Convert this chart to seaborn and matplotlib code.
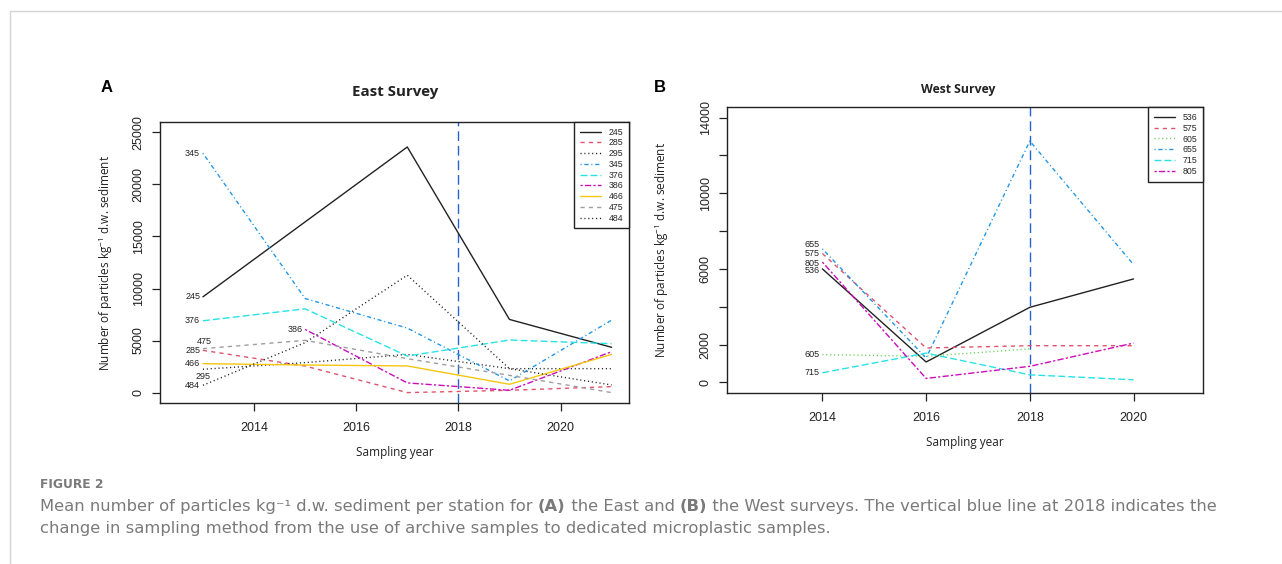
import numpy as np
import pandas as pd
import matplotlib
matplotlib.use("Agg")
import matplotlib.pyplot as plt
import seaborn as sns
from matplotlib.lines import Line2D

# ---------------- data ----------------
east_years = [2013, 2015, 2017, 2019, 2021]
east_245 = [9200, 16400, 23600, 7030, 4350]
east_285 = [4060, 2550, 0, 220, 575]
east_295 = [2240, 2880, 3670, 2300, 2300]
east_345 = [23000, 9040, 6200, 1120, 6960]
east_376 = [6900, 8050, 3510, 5050, 4700]
east_386 = [np.nan, 6070, 930, 220, 3930]
east_466 = [2780, 2650, 2560, 800, 3670]
east_475 = [4220, 5020, 3260, 1660, 0]
east_484 = [700, 4800, 11280, 2300, 730]
east_stations = ["245", "285", "295", "345", "376", "386", "466", "475", "484"]
east_values = [east_245, east_285, east_295, east_345, east_376, east_386,
               east_466, east_475, east_484]

west_years = [2014, 2016, 2018, 2020]
west_536 = [6000, 1080, 3970, 5470]
west_575 = [6810, 1820, 1940, 1940]
west_605 = [1470, 1380, 1770, np.nan]
west_655 = [7060, 1290, 12760, 6230]
west_715 = [510, 1550, 400, 140]
west_805 = [6360, 210, 850, 2080]
west_stations = ["536", "575", "605", "655", "715", "805"]
west_values = [west_536, west_575, west_605, west_655, west_715, west_805]

east_yticks = [0, 5000, 10000, 15000, 20000, 25000]
west_yticks = [0, 2000, 4000, 6000, 8000, 10000, 12000, 14000]
west_ytick_labels = ["0", "2000", "", "6000", "", "10000", "", "14000"]
xticks = [2014, 2016, 2018, 2020]

# ---------------- styles ----------------
BLACK = "#222222"
RED = "#DF536B"
GREEN = "#61D04F"
BLUE = "#2297E6"
CYAN = "#28E2E5"
MAGENTA = "#CD0BBC"
GOLD = "#F5C710"
GRAY = "#9E9E9E"

SOLID = "-"
DASHED = (0, (3.0, 3.0))
DOTTED = (0, (0.8, 2.0))
DOTDASH = (0, (0.8, 2.0, 3.0, 2.0))
LONGDASH = (0, (5.0, 2.2))
TWODASH = (0, (1.6, 1.6, 4.5, 1.6))

east_style = {
    "245": (BLACK, SOLID), "285": (RED, DASHED), "295": (BLACK, DOTTED),
    "345": (BLUE, DOTDASH), "376": (CYAN, LONGDASH), "386": (MAGENTA, TWODASH),
    "466": (GOLD, SOLID), "475": (GRAY, DASHED), "484": (BLACK, DOTTED),
}
west_style = {
    "536": (BLACK, SOLID), "575": (RED, DASHED), "605": (GREEN, DOTTED),
    "655": (BLUE, DOTDASH), "715": (CYAN, LONGDASH), "805": (MAGENTA, TWODASH),
}

sns.set_style("ticks")
plt.rcParams["font.family"] = ["Liberation Sans", "DejaVu Sans"]
plt.rcParams["lines.scale_dashes"] = False
plt.rcParams["mathtext.fontset"] = "custom"
plt.rcParams["mathtext.rm"] = "Open Sans"
plt.rcParams["mathtext.it"] = "Open Sans:italic"
plt.rcParams["mathtext.bf"] = "Open Sans:bold"

W, H = 1282, 564
fig = plt.figure(figsize=(W / 100, H / 100), dpi=100)
fig.patch.set_facecolor("white")


def fx(px):
    return px / W


def fy(py):
    return 1 - py / H


def make_ax(left, top, right, bottom):
    return fig.add_axes([fx(left), fy(bottom), fx(right - left), (bottom - top) / H])


axA = make_ax(160, 122, 629, 403)
axB = make_ax(727, 107, 1203, 393)


def draw_panel(ax, years, stations, values, styles, xlim, ylim, yticks, ylabels,
               labelspacing, ylabelpad):
    df = pd.DataFrame({"year": np.repeat([years], len(stations), axis=0).ravel(),
                       "station": np.repeat(stations, len(years)),
                       "value": np.concatenate(values)})
    for st in stations:
        sub = df[df["station"] == st].dropna()
        col, ls = styles[st]
        sns.lineplot(data=sub, x="year", y="value", ax=ax, color=col, linestyle=ls,
                     linewidth=1.0, errorbar=None, label=st, sort=False)
    ax.axvline(2018, color="#2563d4", linewidth=1.0, linestyle=(0, (7, 3.5)), zorder=1)
    ax.set_xlim(*xlim)
    ax.set_ylim(*ylim)
    ax.set_xticks(xticks)
    ax.set_xticklabels([str(t) for t in xticks])
    ax.set_yticks(yticks)
    ax.set_yticklabels(ylabels, rotation=90, va="center")
    ax.tick_params(axis="both", direction="out", length=6, width=0.9, colors=BLACK,
                   labelsize=9, labelcolor=BLACK)
    ax.tick_params(axis="x", pad=8)
    ax.tick_params(axis="y", pad=5)
    for s in ax.spines.values():
        s.set_visible(True)
        s.set_color(BLACK)
        s.set_linewidth(1.0)
    ax.set_xlabel("Sampling year", fontfamily="Open Sans", fontsize=8.5, color=BLACK,
                  labelpad=8)
    ax.set_ylabel("Number of particles kg$^{-1}$ d.w. sediment", fontfamily="Open Sans",
                  fontsize=8.5, color=BLACK, labelpad=ylabelpad)
    leg = ax.legend(loc="upper right", bbox_to_anchor=(1, 1), borderaxespad=0,
                    frameon=True, fancybox=False, edgecolor=BLACK, framealpha=1,
                    fontsize=6.3, handlelength=2.4, handletextpad=0.9,
                    labelspacing=labelspacing, borderpad=0.65)
    leg.get_frame().set_linewidth(1.0)
    return df


draw_panel(axA, east_years, east_stations, east_values, east_style,
           (2012.16, 2021.34), (-1000, 26000), east_yticks,
           [str(t) for t in east_yticks], 0.2, 13)
draw_panel(axB, west_years, west_stations, west_values, west_style,
           (2012.16, 2021.34), (-560, 14560), west_yticks, west_ytick_labels, 0.22, 21)

# point labels
lab_kw = dict(fontsize=6.5, color=BLACK, textcoords="offset points")
east_first = {"245": 0, "285": 0, "295": 0, "345": 0, "376": 0, "386": 1,
              "466": 0, "475": 0, "484": 0}
east_offsets = {"245": (-2, 0, "right"), "285": (-2, 0, "right"), "295": (0, -5, "center"),
                "345": (-2, 0, "right"), "376": (-2, 0, "right"), "386": (-2, 0, "right"),
                "466": (-2, 0, "right"), "475": (1, 5, "center"), "484": (-2, 0, "right")}
for st, vals in zip(east_stations, east_values):
    i = east_first[st]
    dx, dy, ha = east_offsets[st]
    axA.annotate(st, (east_years[i], vals[i]), xytext=(dx, dy), ha=ha, va="center", **lab_kw)

west_offsets = {"655": (-2, 3), "575": (-2, 0), "805": (-2, -1), "536": (-2, -1),
                "605": (-2, 0), "715": (-2, 0)}
for st, vals in zip(west_stations, west_values):
    dx, dy = west_offsets[st]
    axB.annotate(st, (west_years[0], vals[0]), xytext=(dx, dy), ha="right", va="center",
                 **lab_kw)

# titles and panel letters
fig.text(fx(395), fy(92), "East Survey", ha="center", va="center", fontfamily="Open Sans",
         fontweight="bold", fontsize=10.8, color=BLACK)
fig.text(fx(958), fy(90), "West Survey", ha="center", va="center", fontfamily="Open Sans",
         fontweight="bold", fontsize=8.8, color=BLACK)
fig.text(fx(107), fy(87), "A", ha="center", va="center", fontweight="bold", fontsize=12,
         color="black")
fig.text(fx(660), fy(87), "B", ha="center", va="center", fontweight="bold", fontsize=12,
         color="black")

# frame lines of the page
fig.add_artist(Line2D([fx(10), fx(10)], [fy(11), 0], color="#d4d4d4", linewidth=1.0))
fig.add_artist(Line2D([fx(10), 1], [fy(11), fy(11)], color="#d4d4d4", linewidth=1.0))

# caption
CAP = "#7a7a7a"
CAPFONT = "DejaVu Sans"
fig.text(fx(40), fy(488), "FIGURE 2", ha="left", va="baseline", fontfamily=CAPFONT,
         fontweight="bold", fontsize=8.8, color=CAP)

fig.canvas.draw()
renderer = fig.canvas.get_renderer()


def write_segments(x0, ybase, segments, size):
    x = x0
    for txt, weight in segments:
        t = fig.text(fx(x), fy(ybase), txt, ha="left", va="baseline",
                     fontfamily=CAPFONT, fontweight=weight, fontsize=size, color=CAP)
        bb = t.get_window_extent(renderer=renderer)
        x += bb.width
    return x


cap_size = 11.8
write_segments(40, 511, [("Mean number of particles kg\u207b\u00b9 d.w. sediment per station for ", "normal"),
                         ("(A)", "bold"), (" the East and ", "normal"), ("(B)", "bold"),
                         (" the West surveys. The vertical blue line at 2018 indicates the", "normal")],
               cap_size)
write_segments(40, 533, [("change in sampling method from the use of archive samples to dedicated microplastic samples.", "normal")],
               cap_size)

fig.savefig("out.png", dpi=100)
